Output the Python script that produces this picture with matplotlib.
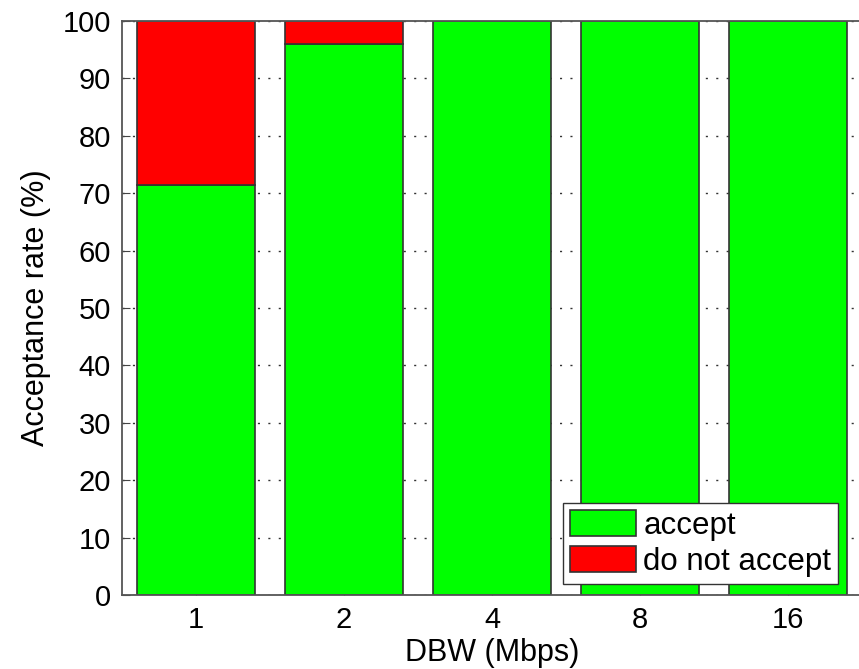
import matplotlib
matplotlib.use("Agg")
import matplotlib.pyplot as plt
import numpy as np

plt.rcParams['font.family'] = ['Liberation Sans', 'DejaVu Sans']

dbw_labels = ['1', '2', '4', '8', '16']
accept = [71.5, 96.0, 100.0, 100.0, 100.0]
not_accept = [28.5, 4.0, 0.0, 0.0, 0.0]

W, H = 859, 669
fig = plt.figure(figsize=(W / 100, H / 100), dpi=100)
# axes runs just past the right edge of the picture, as in the original crop
ax = fig.add_axes([122 / W, 1 - 595 / H, (862 - 122) / W, (595 - 21) / H])

x = np.arange(1, len(dbw_labels) + 1)
edge = '#333333'
ax.bar(x, accept, width=0.8, color='#00ff00', edgecolor=edge, linewidth=1.2,
       label='accept', zorder=2)
ax.bar(x, not_accept, width=0.8, bottom=accept, color='#ff0000',
       edgecolor=edge, linewidth=1.2, label='do not accept', zorder=2)

ax.set_xlim(0.5, 5.5)
ax.set_ylim(0, 100)
ax.set_xticks(x)
ax.set_xticklabels(dbw_labels)
ax.set_yticks(np.arange(0, 101, 10))
ax.yaxis.grid(True, linestyle=(0, (1.5, 6)), color='#333333', linewidth=1, zorder=0)
ax.tick_params(direction='in', labelsize=21, length=6, color='#444444',
               top=False, right=False, pad=8)
for s in ax.spines.values():
    s.set_color('#555555')
    s.set_linewidth(1.3)

ax.set_xlabel('DBW (Mbps)', fontsize=22, labelpad=3)
ax.set_ylabel('Acceptance rate (%)', fontsize=22, labelpad=8)

leg = ax.legend(loc='lower left', bbox_to_anchor=(563 / W, 1 - 584 / H),
                bbox_transform=fig.transFigure, fontsize=22.5, frameon=True,
                fancybox=False, edgecolor='#333333', framealpha=1,
                handlelength=2.1, handleheight=0.9, handletextpad=0.25,
                borderpad=0.22, labelspacing=0.18, borderaxespad=0)
leg.get_frame().set_linewidth(1.0)

fig.savefig('out.png', dpi=100)
